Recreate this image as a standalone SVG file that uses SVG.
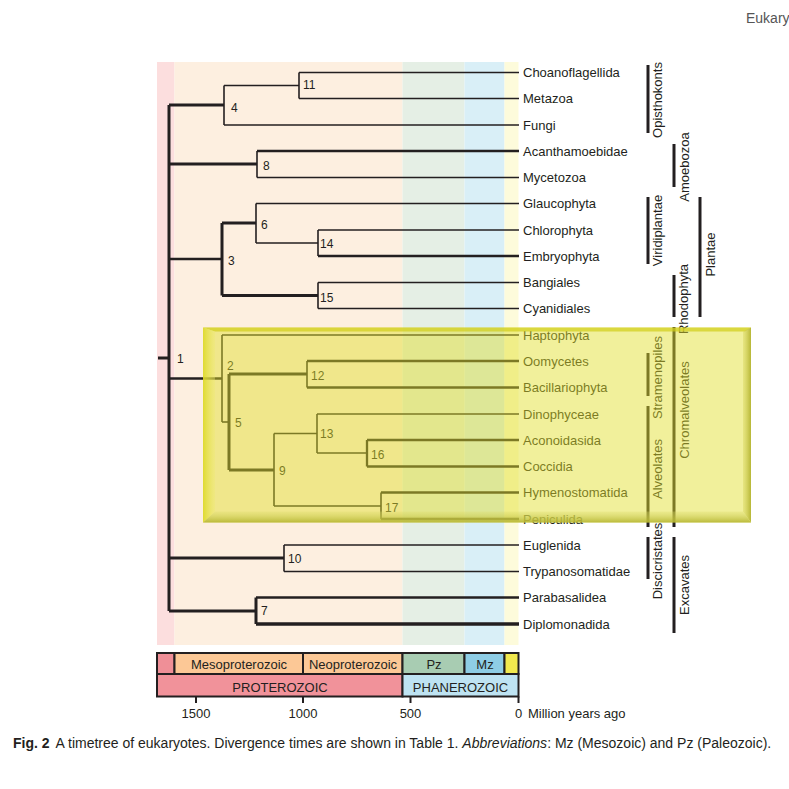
<svg xmlns="http://www.w3.org/2000/svg" width="789" height="789" viewBox="0 0 789 789">
<defs>
<style>
.t{font-family:"Liberation Sans",Arial,sans-serif;font-size:13px;fill:#231f20}
.n{font-family:"Liberation Sans",Arial,sans-serif;font-size:12px;fill:#231f20}
.g{font-family:"Liberation Sans",Arial,sans-serif;font-size:13px;fill:#231f20;text-anchor:middle}
.s{font-family:"Liberation Sans",Arial,sans-serif;font-size:13px;fill:#231f20;text-anchor:middle}
.thin{stroke:#231f20;stroke-width:1.6;fill:none}
.thk{stroke:#231f20;stroke-width:3;fill:none}
.mid{stroke:#231f20;stroke-width:2.3;fill:none}
.bar{stroke:#231f20;stroke-width:3}
.box{stroke:#231f20;stroke-width:2}
</style>
<linearGradient id="gl" x1="0" y1="0" x2="1" y2="0">
<stop offset="0" stop-color="#dcd820" stop-opacity="0.85"/>
<stop offset="1" stop-color="#eeea70" stop-opacity="0.35"/>
</linearGradient>
<linearGradient id="gr" x1="0" y1="0" x2="1" y2="0">
<stop offset="0" stop-color="#d8d65a" stop-opacity="0.4"/>
<stop offset="1" stop-color="#b0b02a" stop-opacity="0.9"/>
</linearGradient>
<linearGradient id="gb" x1="0" y1="0" x2="0" y2="1">
<stop offset="0" stop-color="#dcdc6a" stop-opacity="0.3"/>
<stop offset="1" stop-color="#b4b430" stop-opacity="0.9"/>
</linearGradient>
</defs>
<rect width="789" height="789" fill="#ffffff"/>

<g id="bands">
<rect x="157" y="62" width="17.5" height="583" fill="#fcdede"/>
<rect x="174.5" y="62" width="228" height="583" fill="#fdefe0"/>
<rect x="402.5" y="62" width="62" height="583" fill="#e5efe5"/>
<rect x="464.5" y="62" width="40" height="583" fill="#d9eff7"/>
<rect x="504.5" y="62" width="14" height="583" fill="#fdfbdb"/>
</g>

<g id="connectors">
<line class="thk" x1="169" y1="105" x2="169" y2="611"/>
<line class="thk" x1="158" y1="358" x2="169" y2="358"/>
<line class="thk" x1="169" y1="105" x2="224" y2="105"/>
<line class="thin" x1="224" y1="85.5" x2="224" y2="125"/>
<line class="thin" x1="224" y1="85.5" x2="299" y2="85.5"/>
<line class="thin" x1="224" y1="125" x2="519" y2="125"/>
<line class="thin" x1="299" y1="72.5" x2="299" y2="98.5"/>
<line class="thin" x1="299" y1="72.5" x2="519" y2="72.5"/>
<line class="thin" x1="299" y1="98.5" x2="519" y2="98.5"/>
<line class="thk" x1="169" y1="164" x2="257" y2="164"/>
<line class="thin" x1="257" y1="151" x2="257" y2="177.5"/>
<line class="mid" x1="257" y1="151" x2="519" y2="151"/>
<line class="thin" x1="257" y1="177.5" x2="519" y2="177.5"/>
<line class="mid" x1="169" y1="259" x2="222" y2="259"/>
<line class="thk" x1="222" y1="223" x2="222" y2="295.5"/>
<line class="thk" x1="222" y1="223" x2="256" y2="223"/>
<line class="thk" x1="222" y1="295.5" x2="318" y2="295.5"/>
<line class="thin" x1="256" y1="203.5" x2="256" y2="243"/>
<line class="thin" x1="256" y1="203.5" x2="519" y2="203.5"/>
<line class="thin" x1="256" y1="243" x2="318" y2="243"/>
<line class="thin" x1="318" y1="230" x2="318" y2="256"/>
<line class="thin" x1="318" y1="230" x2="519" y2="230"/>
<line class="mid" x1="318" y1="256" x2="519" y2="256"/>
<line class="thin" x1="318" y1="282.5" x2="318" y2="308.5"/>
<line class="thin" x1="318" y1="282.5" x2="519" y2="282.5"/>
<line class="thin" x1="318" y1="308.5" x2="519" y2="308.5"/>
<line class="mid" x1="169" y1="378.5" x2="222" y2="378.5"/>
<line class="thin" x1="222" y1="335" x2="222" y2="422"/>
<line class="thin" x1="222" y1="335" x2="519" y2="335"/>
<line class="thin" x1="222" y1="422" x2="229" y2="422"/>
<line class="thk" x1="229" y1="374" x2="229" y2="470"/>
<line class="thk" x1="229" y1="374" x2="307" y2="374"/>
<line class="thin" x1="307" y1="361" x2="307" y2="387.5"/>
<line class="mid" x1="307" y1="361" x2="519" y2="361"/>
<line class="mid" x1="307" y1="387.5" x2="519" y2="387.5"/>
<line class="thk" x1="229" y1="470" x2="274" y2="470"/>
<line class="thin" x1="274" y1="433.5" x2="274" y2="506"/>
<line class="thin" x1="274" y1="433.5" x2="317" y2="433.5"/>
<line class="thin" x1="274" y1="506" x2="381" y2="506"/>
<line class="thin" x1="317" y1="414" x2="317" y2="453"/>
<line class="thin" x1="317" y1="414" x2="519" y2="414"/>
<line class="thin" x1="317" y1="453" x2="367" y2="453"/>
<line class="mid" x1="367" y1="440" x2="367" y2="466.5"/>
<line class="mid" x1="367" y1="440" x2="519" y2="440"/>
<line class="mid" x1="367" y1="466.5" x2="519" y2="466.5"/>
<line class="thin" x1="381" y1="492.5" x2="381" y2="519"/>
<line class="mid" x1="381" y1="492.5" x2="519" y2="492.5"/>
<line class="mid" x1="381" y1="519" x2="519" y2="519"/>
<line class="thk" x1="169" y1="558" x2="284" y2="558"/>
<line class="thin" x1="284" y1="545" x2="284" y2="571.5"/>
<line class="thin" x1="284" y1="545" x2="519" y2="545"/>
<line class="thin" x1="284" y1="571.5" x2="519" y2="571.5"/>
<line class="thk" x1="169" y1="611" x2="256" y2="611"/>
<line class="thk" x1="256" y1="597.5" x2="256" y2="624"/>
<line class="mid" x1="256" y1="597.5" x2="519" y2="597.5"/>
<line stroke="#231f20" stroke-width="3.5" x1="256" y1="624" x2="519" y2="624"/>
</g>

<g id="node-labels">
<text class="n" x="177" y="363">1</text>
<text class="n" x="227" y="370">2</text>
<text class="n" x="228" y="264.5">3</text>
<text class="n" x="231" y="112">4</text>
<text class="n" x="235" y="427">5</text>
<text class="n" x="261" y="228.5">6</text>
<text class="n" x="261" y="615">7</text>
<text class="n" x="263" y="170">8</text>
<text class="n" x="279" y="475">9</text>
<text class="n" x="288" y="563">10</text>
<text class="n" x="303" y="89">11</text>
<text class="n" x="311" y="380">12</text>
<text class="n" x="320" y="438">13</text>
<text class="n" x="320" y="248">14</text>
<text class="n" x="320" y="301.5">15</text>
<text class="n" x="371" y="459">16</text>
<text class="n" x="385" y="512">17</text>
</g>

<g id="leaves">
<text class="t" x="523" y="77">Choanoflagellida</text>
<text class="t" x="523" y="103">Metazoa</text>
<text class="t" x="523" y="129.5">Fungi</text>
<text class="t" x="523" y="155.5">Acanthamoebidae</text>
<text class="t" x="523" y="182">Mycetozoa</text>
<text class="t" x="523" y="208">Glaucophyta</text>
<text class="t" x="523" y="234.5">Chlorophyta</text>
<text class="t" x="523" y="260.5">Embryophyta</text>
<text class="t" x="523" y="287">Bangiales</text>
<text class="t" x="523" y="313">Cyanidiales</text>
<text class="t" x="523" y="339.5">Haptophyta</text>
<text class="t" x="523" y="365.5">Oomycetes</text>
<text class="t" x="523" y="392">Bacillariophyta</text>
<text class="t" x="523" y="418.5">Dinophyceae</text>
<text class="t" x="523" y="444.5">Aconoidasida</text>
<text class="t" x="523" y="471">Coccidia</text>
<text class="t" x="523" y="497">Hymenostomatida</text>
<text class="t" x="523" y="523.5">Peniculida</text>
<text class="t" x="523" y="549.5">Euglenida</text>
<text class="t" x="523" y="576">Trypanosomatidae</text>
<text class="t" x="523" y="602">Parabasalidea</text>
<text class="t" x="523" y="628.5">Diplomonadida</text>
</g>

<g id="groups">
<line class="bar" x1="648" y1="65" x2="648" y2="133"/>
<text class="g" transform="translate(662,100) rotate(-90)">Opisthokonts</text>
<line class="bar" x1="674" y1="144" x2="674" y2="187"/>
<text class="g" transform="translate(689,167) rotate(-90)">Amoebozoa</text>
<line class="bar" x1="648" y1="197" x2="648" y2="264"/>
<text class="g" transform="translate(662,230.5) rotate(-90)">Viridiplantae</text>
<line class="bar" x1="700" y1="197" x2="700" y2="317"/>
<text class="g" transform="translate(715,254.5) rotate(-90)">Plantae</text>
<line class="bar" x1="674" y1="275" x2="674" y2="317"/>
<text class="g" transform="translate(688,299) rotate(-90)">Rhodophyta</text>
<line class="bar" x1="648" y1="353" x2="648" y2="396"/>
<text class="g" transform="translate(662,377.5) rotate(-90)">Stramenopiles</text>
<line class="bar" x1="648" y1="406" x2="648" y2="527"/>
<text class="g" transform="translate(662,469) rotate(-90)">Alveolates</text>
<line class="bar" x1="674" y1="327" x2="674" y2="527"/>
<text class="g" transform="translate(689,410) rotate(-90)">Chromalveolates</text>
<line class="bar" x1="648" y1="537" x2="648" y2="579"/>
<text class="g" transform="translate(662,561) rotate(-90)">Discicristates</text>
<line class="bar" x1="674" y1="537" x2="674" y2="633"/>
<text class="g" transform="translate(689,585) rotate(-90)">Excavates</text>
</g>

<g id="highlight">
<rect x="203" y="327.5" width="548" height="195" fill="#e2e02a" fill-opacity="0.47"/>
<polygon points="203,327.5 751,327.5 745,331.5 215,331.5" fill="#d0cd18" fill-opacity="0.7"/>
<polygon points="203,327.5 215,331.5 215,511.5 203,522.5" fill="url(#gl)"/>
<polygon points="751,327.5 751,522.5 743,511.5 743,331.5" fill="url(#gr)"/>
<polygon points="203,522.5 215,511.5 743,511.5 751,522.5" fill="url(#gb)"/>
</g>

<g id="timescale">
<rect class="box" x="157" y="653" width="17.5" height="21" fill="#ef8f97"/>
<rect class="box" x="174.5" y="653" width="128.5" height="21" fill="#fcc896"/>
<rect class="box" x="303" y="653" width="99.5" height="21" fill="#fcc896"/>
<rect class="box" x="402.5" y="653" width="62" height="21" fill="#a8ccb2"/>
<rect class="box" x="464.5" y="653" width="40" height="21" fill="#8ecde5"/>
<rect class="box" x="504.5" y="653" width="14" height="21" fill="#f2e94e"/>
<rect class="box" x="157" y="674" width="245.5" height="22.5" fill="#f1929a"/>
<rect class="box" x="402.5" y="674" width="116" height="22.5" fill="#bee3f2"/>
<text class="s" x="239" y="668.5">Mesoproterozoic</text>
<text class="s" x="353" y="668.5">Neoproterozoic</text>
<text class="s" x="434" y="668.5">Pz</text>
<text class="s" x="485" y="668.5">Mz</text>
<text class="s" x="280" y="692" font-size="12.5">PROTEROZOIC</text>
<text class="s" x="460.5" y="692" font-size="12.5">PHANEROZOIC</text>
<line class="box" x1="196" y1="696.5" x2="196" y2="703"/>
<line class="box" x1="303" y1="696.5" x2="303" y2="703"/>
<line class="box" x1="410.5" y1="696.5" x2="410.5" y2="703"/>
<line class="box" x1="518.5" y1="696.5" x2="518.5" y2="703"/>
<text class="s" x="196" y="718">1500</text>
<text class="s" x="303" y="718">1000</text>
<text class="s" x="410.5" y="718">500</text>
<text class="s" x="518.5" y="718">0</text>
<text class="t" x="528" y="718">Million years ago</text>
</g>

<g id="caption">
<text x="13" y="748" font-family="'Liberation Sans',Arial,sans-serif" font-size="14" fill="#231f20"><tspan font-weight="bold">Fig. 2</tspan><tspan dx="6">A timetree of eukaryotes. Divergence times are shown in Table 1. </tspan><tspan font-style="italic">Abbreviations</tspan><tspan>: Mz (Mesozoic) and Pz (Paleozoic).</tspan></text>
<text x="746" y="23" font-family="'Liberation Sans',Arial,sans-serif" font-size="14" fill="#555555">Eukary</text>
</g>
</svg>
